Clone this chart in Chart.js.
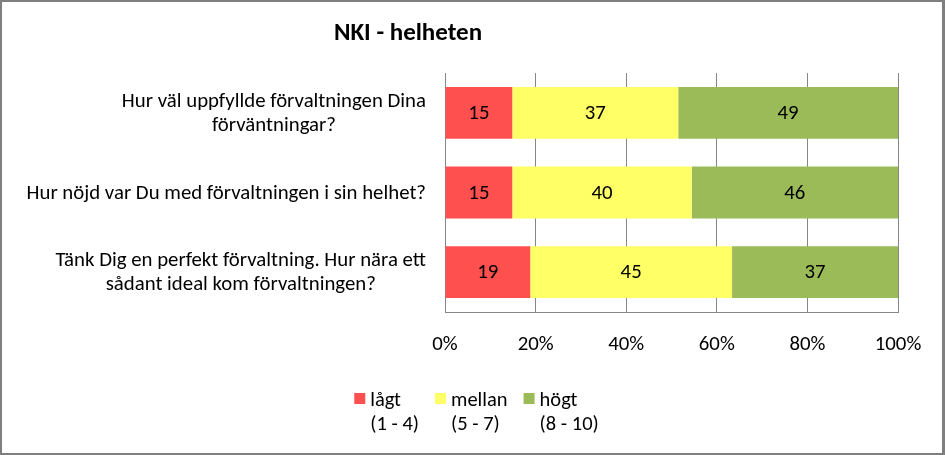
<!DOCTYPE html>
<html><head><meta charset="utf-8">
<script src="https://cdn.jsdelivr.net/npm/chart.js@4.4.0/dist/chart.umd.min.js"></script>
<style>
html,body{margin:0;padding:0;background:#fff;}
#wrap{position:relative;width:945px;height:455px;overflow:hidden;}
#c{position:absolute;left:0;top:0;}
#frame{position:absolute;left:0;top:0;width:945px;height:455px;box-sizing:border-box;border-style:solid;border-color:#7f7f7f;border-width:2px 3px 2px 2px;pointer-events:none;}
</style></head><body>
<div id="wrap"><canvas id="c" width="945" height="455"></canvas><div id="frame"></div></div>
<script>
const chartTitle = 'NKI - helheten';
const categories = [
  ['Hur väl uppfyllde förvaltningen Dina', 'förväntningar?'],
  ['Hur nöjd var Du med förvaltningen i sin helhet?'],
  ['Tänk Dig en perfekt förvaltning. Hur nära ett', 'sådant ideal kom förvaltningen?']
];
const seriesNames = [['lågt', '(1 - 4)'], ['mellan', '(5 - 7)'], ['högt', '(8 - 10)']];
const lagt = [15, 15, 19];
const mellan = [37, 40, 45];
const hogt = [49, 46, 37];
const tickLabels = ['0%', '20%', '40%', '60%', '80%', '100%'];
const colors = ['#FF5050', '#FFFF66', '#9BBB59'];

const FONT = "Carlito, Calibri, Lato, sans-serif";
const FS = 20.8;
const raw = [lagt, mellan, hogt];
const totals = lagt.map((v, i) => lagt[i] + mellan[i] + hogt[i]);

const datasets = raw.map((arr, k) => ({
  label: seriesNames[k].join(' '),
  data: arr.map((v, i) => v / totals[i] * 100),
  rawValues: arr,
  backgroundColor: colors[k],
  borderWidth: 0,
  categoryPercentage: 1,
  barPercentage: 0.65
}));

const drawPlugin = {
  id: 'drawPlugin',
  afterDatasetsDraw(chart) {
    const ctx = chart.ctx;
    ctx.save();
    ctx.font = FS + 'px ' + FONT;
    ctx.fillStyle = '#000';
    ctx.textAlign = 'center';
    ctx.textBaseline = 'middle';
    chart.data.datasets.forEach((ds, k) => {
      const meta = chart.getDatasetMeta(k);
      meta.data.forEach((el, i) => {
        ctx.fillText(String(ds.rawValues[i]), (el.x + el.base) / 2, el.y + 1);
      });
    });
    ctx.restore();
  },
  afterDraw(chart) {
    const ctx = chart.ctx;
    const ys = chart.scales.y;
    ctx.save();
    ctx.fillStyle = '#000';
    // title
    ctx.font = 'bold 25px ' + FONT;
    ctx.textAlign = 'center';
    ctx.textBaseline = 'middle';
    ctx.fillText(chartTitle, 408, 34);
    // category labels
    ctx.font = FS + 'px ' + FONT;
    const rightEdge = chart.chartArea.left - 19;
    categories.forEach((lines, i) => {
      const cy = ys.getPixelForValue(i);
      const w = Math.max(...lines.map(l => ctx.measureText(l).width));
      const cx = rightEdge - w / 2;
      lines.forEach((l, j) => {
        ctx.fillText(l, cx, cy + (j - (lines.length - 1) / 2) * 24 + 1);
      });
    });
    // legend
    ctx.font = '20.5px ' + FONT;
    ctx.textAlign = 'left';
    ctx.textBaseline = 'alphabetic';
    const box = 11, boxGap = 5, itemGap = 16;
    const widths = seriesNames.map(n => box + boxGap + Math.max(...n.map(l => ctx.measureText(l).width)));
    const total = widths.reduce((a, b) => a + b, 0) + itemGap * (widths.length - 1);
    let x = 476.5 - total / 2;
    seriesNames.forEach((n, k) => {
      ctx.fillStyle = colors[k];
      ctx.fillRect(x, 393, box, box);
      ctx.fillStyle = '#000';
      n.forEach((l, j) => ctx.fillText(l, x + box + boxGap, 406 + j * 24));
      x += widths[k] + itemGap;
    });
    ctx.restore();
  }
};

new Chart(document.getElementById('c'), {
  type: 'bar',
  data: { labels: categories.map(c => c.join(' ')), datasets },
  options: {
    indexAxis: 'y',
    responsive: false,
    devicePixelRatio: 1,
    animation: false,
    layout: { padding: { top: 73, right: 47, bottom: 0, left: 0 } },
    plugins: { legend: { display: false }, title: { display: false }, tooltip: { enabled: false } },
    scales: {
      x: {
        stacked: true, min: 0, max: 100,
        afterFit(s) { s.height = 143; },
        ticks: {
          stepSize: 20, padding: 20, color: '#000',
          font: { family: FONT, size: FS },
          callback: (v) => tickLabels[Math.round(v / 20)]
        },
        grid: { color: '#868686', drawTicks: false, lineWidth: 1 },
        border: { display: true, color: '#868686' }
      },
      y: {
        stacked: true,
        afterFit(s) { s.width = 445; },
        ticks: { display: false },
        grid: { display: false, drawTicks: false },
        border: { display: true, color: '#868686' }
      }
    }
  },
  plugins: [drawPlugin]
});
</script>
</body></html>
